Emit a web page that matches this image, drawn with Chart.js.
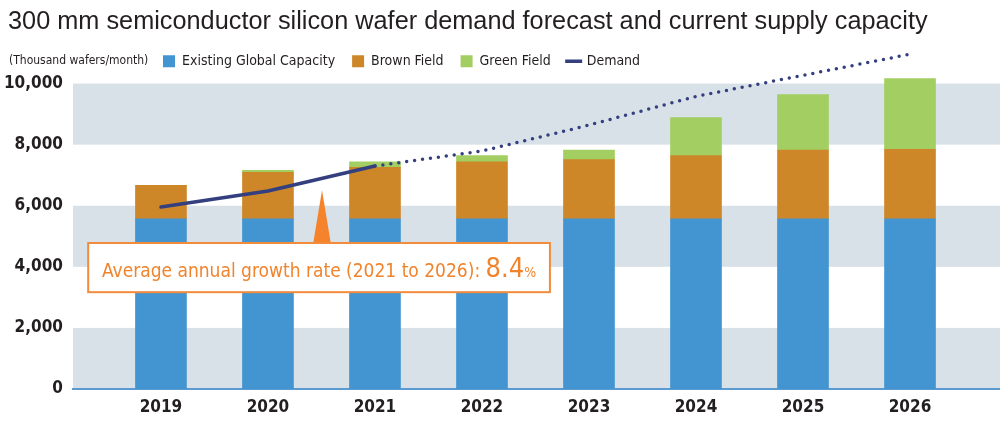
<!DOCTYPE html>
<html lang="en">
<head>
    <meta charset="UTF-8">
    <title>300 mm silicon wafer demand vs supply</title>
    <style>
        * {
            margin: 0;
            padding: 0;
            box-sizing: border-box;
        }

        body {
            background: #fff;
            width: 1000px;
            height: 426px;
            overflow: hidden;
        }

        .chart-box {
            position: relative;
            width: 1000px;
            height: 426px;
        }
    </style>
</head>
<body>

    <div class="chart-box">
        <canvas id="waferChart" width="1000" height="426"></canvas>
    </div>

    <script src="https://cdn.jsdelivr.net/npm/chart.js"></script>
    <script>
        // values, thousand wafers / month
        const years = [2019, 2020, 2021, 2022, 2023, 2024, 2025, 2026];
        const existingCapacity = [5570, 5570, 5570, 5570, 5570, 5570, 5570, 5570];
        const brownField = [1100, 1520, 1690, 1870, 1940, 2070, 2250, 2280];
        const greenField = [0, 70, 180, 200, 310, 1250, 1820, 2530];
        const demand = [5960, 6480, 7300, 7790, 8640, 9580, 10270, 10960];
        const yTicks = [0, 2000, 4000, 6000, 8000, 10000];
        const shadedBands = [[0, 2000], [4000, 6000], [8000, 10000]];
        const growthLabel = 'Average annual growth rate (2021 to 2026): ';
        const growthRate = '8.4';

        const narrow = "'Liberation Sans Narrow', 'DejaVu Sans Condensed', Roboto, sans-serif";
        const ink = '#231f20';
        const orange = '#f0842d';

        // callout box, placed in data units
        const callout = { x0: 2018.32, x1: 2022.635, yTop: 4780, yBottom: 3170, tipX: 2020.505, tipY: 6510, tipHalf: 0.085 };

        const toPoints = vals => vals.map((v, i) => ({ x: years[i], y: v }));

        const bandsPlugin = {
            id: 'bands',
            beforeDraw(chart) {
                const { ctx, chartArea, scales: { y } } = chart;
                ctx.save();
                ctx.fillStyle = '#d8e0e8';
                shadedBands.forEach(([lo, hi]) => {
                    const top = y.getPixelForValue(hi);
                    const bottom = y.getPixelForValue(lo);
                    ctx.fillRect(chartArea.left, top, chartArea.right - chartArea.left, bottom - top);
                });
                ctx.restore();
            }
        };

        const layoutTweak = {
            id: 'layoutTweak',
            afterLayout(chart) {
                // title sits a little in from the edge, legend starts after the units note
                chart.titleBlock.left = 8;
                chart.legend.left = 163 - chart.legend.options.labels.padding;
            }
        };

        const notesPlugin = {
            id: 'notes',
            afterDraw(chart) {
                const { ctx, scales: { x, y } } = chart;
                ctx.save();

                // units note in front of the legend
                const hb = chart.legend.legendHitBoxes[0];
                ctx.font = '12px ' + narrow;
                ctx.fillStyle = ink;
                ctx.textBaseline = 'middle';
                ctx.textAlign = 'left';
                ctx.fillText('(Thousand wafers/month)', 9, hb.top + hb.height / 2);

                // growth callout
                const left = x.getPixelForValue(callout.x0);
                const right = x.getPixelForValue(callout.x1);
                const top = y.getPixelForValue(callout.yTop);
                const bottom = y.getPixelForValue(callout.yBottom);
                const tipX = x.getPixelForValue(callout.tipX);
                const half = x.getPixelForValue(callout.tipX + callout.tipHalf) - tipX;

                ctx.fillStyle = '#f5832c';
                ctx.beginPath();
                ctx.moveTo(tipX, y.getPixelForValue(callout.tipY));
                ctx.lineTo(tipX + half, top + 2);
                ctx.lineTo(tipX - half, top + 2);
                ctx.closePath();
                ctx.fill();

                ctx.fillStyle = '#fff';
                ctx.fillRect(left, top, right - left, bottom - top);
                ctx.strokeStyle = '#f28c3c';
                ctx.lineWidth = 2;
                ctx.strokeRect(left, top, right - left, bottom - top);

                const fMain = '19px ' + narrow;
                const fBig = '27px ' + narrow;
                const fPct = '14px ' + narrow;
                ctx.font = fMain; const w1 = ctx.measureText(growthLabel).width;
                ctx.font = fBig; const w2 = ctx.measureText(growthRate).width;
                ctx.font = fPct; const w3 = ctx.measureText('%').width;
                let tx = (left + right) / 2 - (w1 + w2 + w3) / 2;
                const base = (top + bottom) / 2 + 9;
                ctx.textBaseline = 'alphabetic';
                ctx.fillStyle = orange;
                ctx.font = fMain; ctx.fillText(growthLabel, tx, base); tx += w1;
                ctx.font = fBig; ctx.fillText(growthRate, tx, base); tx += w2;
                ctx.font = fPct; ctx.fillText('%', tx, base);

                ctx.restore();
            }
        };

        const ctx = document.getElementById('waferChart').getContext('2d');
        new Chart(ctx, {
            type: 'bar',
            data: {
                datasets: [
                    { label: 'Existing Global Capacity', data: toPoints(existingCapacity), backgroundColor: '#4395d1', stack: 'supply', barThickness: 51, order: 1 },
                    { label: 'Brown Field', data: toPoints(brownField), backgroundColor: '#cd8729', stack: 'supply', barThickness: 51, order: 1 },
                    { label: 'Green Field', data: toPoints(greenField), backgroundColor: '#a3cf62', stack: 'supply', barThickness: 51, order: 1 },
                    {
                        type: 'line', label: 'Demand', data: toPoints(demand), stack: 'demand', order: 0,
                        borderColor: '#333f7e', backgroundColor: '#333f7e', borderWidth: 3.5,
                        borderCapStyle: 'round', pointRadius: 0, tension: 0, clip: false,
                        segment: { borderDash: c => c.p0DataIndex >= 2 ? [0, 8] : undefined }
                    }
                ]
            },
            options: {
                responsive: false,
                animation: false,
                layout: { padding: { left: 0, right: 0, top: 0, bottom: 6 } },
                plugins: {
                    title: {
                        display: true,
                        text: '300 mm semiconductor silicon wafer demand forecast and current supply capacity',
                        align: 'start',
                        color: ink,
                        font: { family: "'Liberation Sans', Arial, sans-serif", size: 25.3, weight: 'normal' },
                        padding: { top: 7, bottom: 0 }
                    },
                    legend: {
                        align: 'start',
                        labels: {
                            color: ink,
                            font: { family: narrow, size: 14 },
                            boxWidth: 12,
                            boxHeight: 12,
                            padding: 17,
                            usePointStyle: true,
                            sort: (a, b) => a.datasetIndex - b.datasetIndex,
                            generateLabels(chart) {
                                const items = Chart.defaults.plugins.legend.labels.generateLabels(chart);
                                items.forEach(it => {
                                    const ds = chart.data.datasets[it.datasetIndex];
                                    if (ds.type === 'line') {
                                        it.pointStyle = 'line';
                                        it.lineWidth = 3.5;
                                    } else {
                                        it.pointStyle = 'rect';
                                        it.lineWidth = 0;
                                    }
                                });
                                return items;
                            }
                        }
                    },
                    tooltip: { enabled: false }
                },
                scales: {
                    x: {
                        type: 'linear',
                        offset: false,
                        min: 2018.178,
                        max: 2026.841,
                        grid: { display: false, drawTicks: false, offset: false },
                        border: { display: true, color: '#5b9bd2', width: 2 },
                        afterBuildTicks: s => { s.ticks = years.map(v => ({ value: v })); },
                        afterFit: s => { s.height = 31; },
                        ticks: {
                            color: ink,
                            padding: 8,
                            maxRotation: 0,
                            font: { family: narrow, size: 17, weight: 'bold' },
                            callback: v => String(v)
                        }
                    },
                    y: {
                        stacked: true,
                        min: 0,
                        max: 10170,
                        grid: { display: false, drawTicks: false },
                        border: { display: false },
                        afterBuildTicks: s => { s.ticks = yTicks.map(v => ({ value: v })); },
                        afterFit: s => { s.width = 73; },
                        ticks: {
                            color: ink,
                            padding: 10,
                            font: { family: narrow, size: 17, weight: 'bold' },
                            callback: v => v.toLocaleString('en-US')
                        }
                    }
                }
            },
            plugins: [bandsPlugin, layoutTweak, notesPlugin]
        });
    </script>
</body>
</html>
